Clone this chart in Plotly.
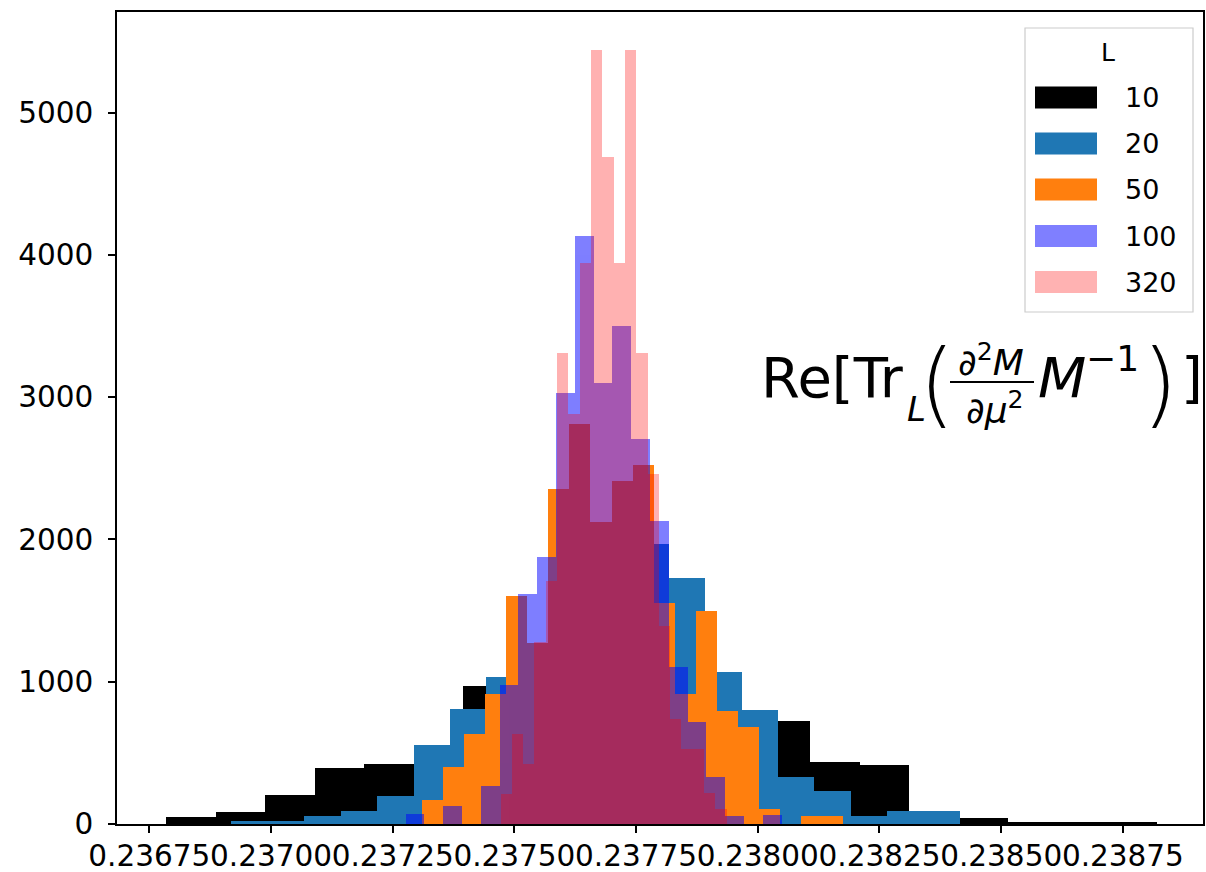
import numpy as np
import plotly.graph_objects as go

# ---------------- data ----------------
L_values = [10, 20, 50, 100, 320]

range_10 = (0.2367843, 0.2388197)
counts_10 = [52, 84, 206, 391, 424, 539, 971, 1200, 2000, 1900,
             1350, 760, 726, 433, 416, 90, 42, 12, 12, 12]

range_20 = (0.2369187, 0.2384157)
counts_20 = [23, 23, 58, 94, 199, 555, 805, 1036, 1200, 2000,
             2000, 1966, 1731, 1066, 800, 328, 234, 58, 94, 94]

range_50 = (0.2373097, 0.2381759)
counts_50 = [169, 403, 633, 914, 1605, 1270, 2356, 2813, 2121, 2414,
             2520, 1551, 914, 1498, 797, 679, 105, 0, 58, 58]

range_100 = (0.2372764, 0.2380490)
counts_100 = [67, 0, 125, 0, 266, 974, 1614, 1876, 3030, 4132,
              3100, 3499, 2708, 2133, 1101, 714, 327, 58, 0, 60]

range_320 = (0.2374716, 0.2379360)
counts_320 = [211, 633, 422, 1277, 1711, 3311, 2885, 3942, 5443, 4688,
              3942, 5443, 3311, 2463, 1395, 740, 527, 527, 220, 107]

x_ticks = [0.23675, 0.23700, 0.23725, 0.23750, 0.23775,
           0.23800, 0.23825, 0.23850, 0.23875]
y_ticks = [0, 1000, 2000, 3000, 4000, 5000]

# ---------------- styling ----------------
W, H = 1206, 872
ML, MR, MT, MB = 117, 3, 12, 48
PW, PH = W - ML - MR, H - MT - MB
FONT = "DejaVu Sans"

series = [
    (range_10, counts_10, "rgb(0,0,0)", 1.0),
    (range_20, counts_20, "#1f77b4", 1.0),
    (range_50, counts_50, "#ff7f0e", 1.0),
    (range_100, counts_100, "rgb(0,0,255)", 0.5),
    (range_320, counts_320, "rgb(255,0,0)", 0.3),
]
legend_colors = ["rgb(0,0,0)", "#1f77b4", "#ff7f0e",
                 "rgba(0,0,255,0.5)", "rgba(255,0,0,0.3)"]


def xp(px):
    return (px - ML) / PW


def yp(py):
    return (H - MB - py) / PH


fig = go.Figure()
for (rng, counts, color, op), L in zip(series, L_values):
    edges = np.linspace(rng[0], rng[1], len(counts) + 1)
    centers = (edges[:-1] + edges[1:]) / 2
    widths = np.diff(edges)
    fig.add_trace(go.Bar(
        x=centers, y=counts, width=widths,
        marker=dict(color=color, line=dict(width=0)),
        opacity=op, name=str(L), showlegend=False,
        hoverinfo="skip",
    ))

shapes = []
annotations = []

# ---- manual legend (matplotlib style) ----
shapes.append(dict(type="rect", xref="paper", yref="paper",
                   x0=xp(1025), x1=xp(1193), y0=yp(312), y1=yp(28),
                   line=dict(color="#cccccc", width=1.2),
                   fillcolor="rgba(255,255,255,0.8)", layer="above"))
annotations.append(dict(text="L", xref="paper", yref="paper",
                        x=xp(1108), y=yp(53), xanchor="center", yanchor="middle",
                        showarrow=False, font=dict(family=FONT, size=25, color="black")))
row_centers = [97.5, 143.5, 189.5, 236, 282]
for L, col, rc in zip(L_values, legend_colors, row_centers):
    shapes.append(dict(type="rect", xref="paper", yref="paper",
                       x0=xp(1035), x1=xp(1097), y0=yp(rc + 11), y1=yp(rc - 11),
                       line=dict(width=0), fillcolor=col, layer="above"))
    annotations.append(dict(text=str(L), xref="paper", yref="paper",
                            x=xp(1123), y=yp(rc), xanchor="left", yanchor="middle",
                            showarrow=False,
                            font=dict(family=FONT, size=27, color="black")))

# ---- math label Re[Tr_L( d2M/dmu2 M^-1 )] ----
def txt(t, px, py, size, anchor="left", weight="normal"):
    annotations.append(dict(text=t, xref="paper", yref="paper",
                            x=xp(px), y=yp(py), xanchor=anchor, yanchor="middle",
                            showarrow=False,
                            font=dict(family=FONT, size=size, color="black",
                                      weight=weight)))

txt("Re[Tr", 759, 377, 56)
txt("<i>L</i>", 905, 409, 34)
txt("(", 937, 384, 92, "center", 200)
txt("∂<sup>2</sup><i>M</i>", 991, 360, 36, "center")
shapes.append(dict(type="line", xref="paper", yref="paper",
                   x0=xp(950), x1=xp(1034), y0=yp(382), y1=yp(382),
                   line=dict(color="black", width=2), layer="above"))
txt("∂<i>μ</i><sup>2</sup>", 995, 408, 36, "center")
txt("<i>M</i>", 1036, 377, 56)
txt("−1", 1084, 358, 36)
txt(")", 1160, 384, 92, "center", 200)
txt("]", 1179, 377, 56)

axis_common = dict(showline=True, mirror=True, linecolor="black", linewidth=1.5,
                   ticks="outside", ticklen=7, tickwidth=1.5, tickcolor="black",
                   showgrid=False, zeroline=False, automargin=False,
                   tickfont=dict(family=FONT, size=29.5, color="black"))

fig.update_layout(
    width=W, height=H,
    margin=dict(l=ML, r=MR, t=MT, b=MB, pad=0, autoexpand=False),
    paper_bgcolor="white", plot_bgcolor="white",
    barmode="overlay", bargap=0,
    xaxis=dict(range=[0.2366836, 0.2389146], tickangle=0,
               tickvals=x_ticks, ticktext=[f"{v:.5f}" for v in x_ticks],
               ticklabelstandoff=-2, **axis_common),
    yaxis=dict(range=[0, 5707], tickvals=y_ticks, tickangle=0,
               ticktext=[str(v) for v in y_ticks], ticklabelstandoff=9,
               **axis_common),
    shapes=shapes, annotations=annotations,
    showlegend=False,
)

fig.write_html("out.html")
